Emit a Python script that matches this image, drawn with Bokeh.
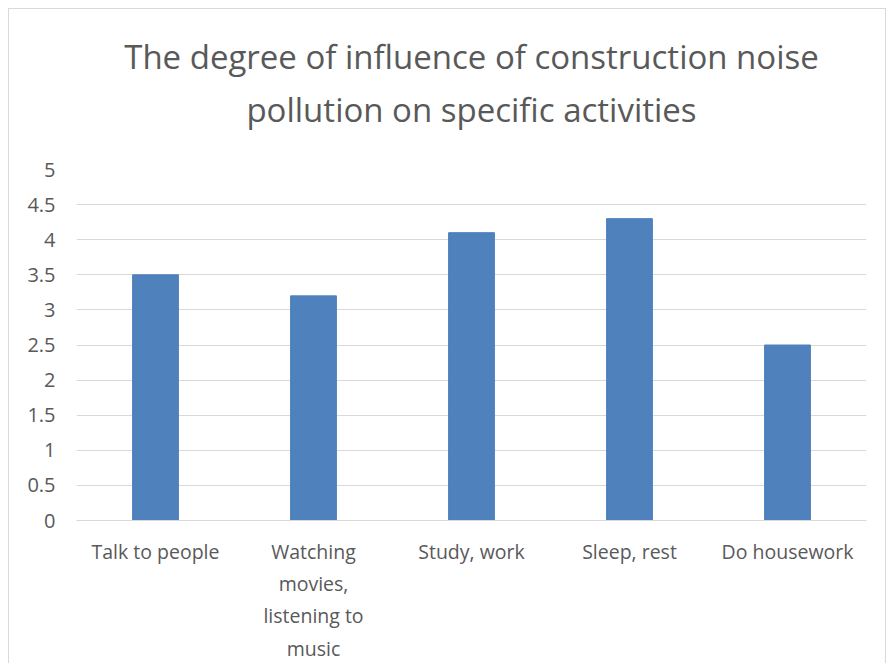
from bokeh.plotting import figure
from bokeh.models import Title, SingleIntervalTicker, Range1d
from bokeh.embed import file_html
from bokeh.resources import INLINE

categories = ["Talk to people", "Watching\nmovies,\nlistening to\nmusic", "Study, work", "Sleep, rest", "Do housework"]
values = [3.5, 3.2, 4.1, 4.3, 2.5]
title_lines = ["The degree of influence of construction noise", "pollution on specific activities"]

FONT = "Open Sans"
GREY = "#595959"

p = figure(x_range=categories, y_range=Range1d(0, 5), width=878, height=655,
           output_backend="svg", toolbar_location=None, title=None,
           min_border_left=67, min_border_right=21, min_border_top=160, min_border_bottom=141)

p.vbar(x=categories, top=values, width=0.29, color="#4f81bd")

spacer = Title(text=" ", text_font=FONT, text_font_size="1px", standoff=32)
t2 = Title(text=title_lines[1], align="center", text_font=FONT, text_font_size="33px",
           text_font_style="normal", text_color=GREY, standoff=6)
t1 = Title(text=title_lines[0], align="center", text_font=FONT, text_font_size="33px",
           text_font_style="normal", text_color=GREY, standoff=6)
p.add_layout(spacer, "above")
p.add_layout(t2, "above")
p.add_layout(t1, "above")

p.yaxis.ticker = SingleIntervalTicker(interval=0.5)
p.yaxis.axis_line_color = None
p.yaxis.major_tick_line_color = None
p.yaxis.minor_tick_line_color = None
p.yaxis.major_label_text_font = FONT
p.yaxis.major_label_text_font_size = "20px"
p.yaxis.major_label_text_color = GREY
p.yaxis.major_label_standoff = 15

p.xaxis.axis_line_color = "#d9d9d9"
p.xaxis.major_tick_line_color = None
p.xaxis.minor_tick_line_color = None
p.xaxis.major_label_text_font = FONT
p.xaxis.major_label_text_font_size = "19.5px"
p.xaxis.major_label_text_color = GREY
p.xaxis.major_label_standoff = 11

p.xgrid.grid_line_color = None
p.ygrid.grid_line_color = "#d9d9d9"
p.ygrid.grid_line_width = 1

p.outline_line_color = None
p.border_fill_color = "white"
p.background_fill_color = "white"
p.x_range.range_padding = 0.0
p.styles = {"border-top": "1px solid #d9d9d9", "border-left": "1px solid #d9d9d9",
            "border-right": "1px solid #d9d9d9"}

html = file_html(p, INLINE)
html = html.replace("<body>", '<body style="margin:8px">')
open("out.html", "w").write(html)
